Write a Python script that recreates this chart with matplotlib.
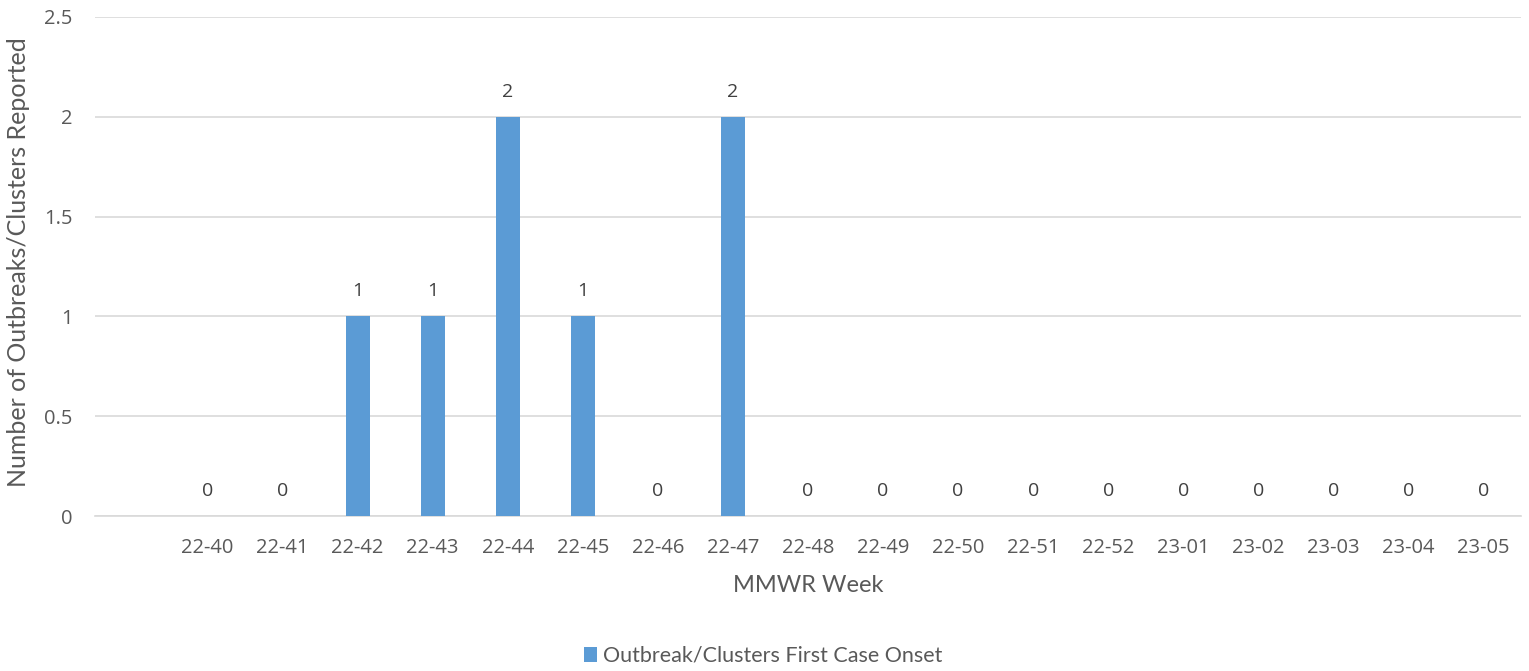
import matplotlib
matplotlib.use('Agg')
import matplotlib.pyplot as plt
import numpy as np

# MMWR weeks (first slot is an empty category in the original chart)
weeks = ['', '22-40', '22-41', '22-42', '22-43', '22-44', '22-45', '22-46', '22-47',
         '22-48', '22-49', '22-50', '22-51', '22-52', '23-01', '23-02', '23-03',
         '23-04', '23-05']
counts = [np.nan, 0, 0, 1, 1, 2, 1, 0, 2, 0, 0, 0, 0, 0, 0, 0, 0, 0, 0]
series_name = 'Outbreak/Clusters First Case Onset'
yticks = [0, 0.5, 1, 1.5, 2, 2.5]

bar_color = '#5B9BD5'
text_color = '#595959'
grid_color = '#D9D9D9'

plt.rcParams['font.family'] = ['Open Sans', 'DejaVu Sans']

fig = plt.figure(figsize=(15.29, 6.71), dpi=100)
ax = fig.add_axes([95 / 1529, 1 - 516 / 671, (1521 - 95) / 1529, (516 - 17) / 671])

x = np.arange(len(weeks))
bars = ax.bar(x, counts, width=0.32, color=bar_color, label=series_name, zorder=3)

for xi, v in zip(x, counts):
    if np.isnan(v):
        continue
    ax.annotate(f'{v:g}', (xi, v), xytext=(0, 18), textcoords='offset points',
                ha='center', va='center', fontsize=14, color='#404040')

ax.set_xlim(-0.5, len(weeks) - 0.5)
ax.set_ylim(0, 2.5)
ax.set_yticks(yticks)
ax.set_yticklabels([f'{t:g}' for t in yticks])
ax.set_xticks(x)
ax.set_xticklabels(weeks)

ax.tick_params(axis='both', length=0, labelsize=14.5, colors=text_color)
ax.tick_params(axis='x', pad=16)
ax.tick_params(axis='y', pad=16)
ax.yaxis.grid(True, color=grid_color, linewidth=1.2, zorder=0)
for s in ['top', 'right', 'left']:
    ax.spines[s].set_visible(False)
ax.spines['bottom'].set_color(grid_color)
ax.spines['bottom'].set_linewidth(1.2)

ax.set_xlabel('MMWR Week', fontsize=17, color=text_color, family=['Lato', 'DejaVu Sans'],
              labelpad=12)
ax.set_ylabel('Number of Outbreaks/Clusters Reported', fontsize=18, color=text_color,
              family=['Lato', 'DejaVu Sans'])
ax.yaxis.set_label_coords(-65 / 1426, 0.509)

fig.legend(handles=[bars], labels=[series_name], loc='center', bbox_to_anchor=(763 / 1529, 1 - 656 / 671),
           frameon=False, handlelength=0.6, handleheight=0.7, handletextpad=0.3,
           prop={'family': ['Lato', 'DejaVu Sans'], 'size': 15.5}, labelcolor=text_color)

fig.savefig('out.png', dpi=100)
